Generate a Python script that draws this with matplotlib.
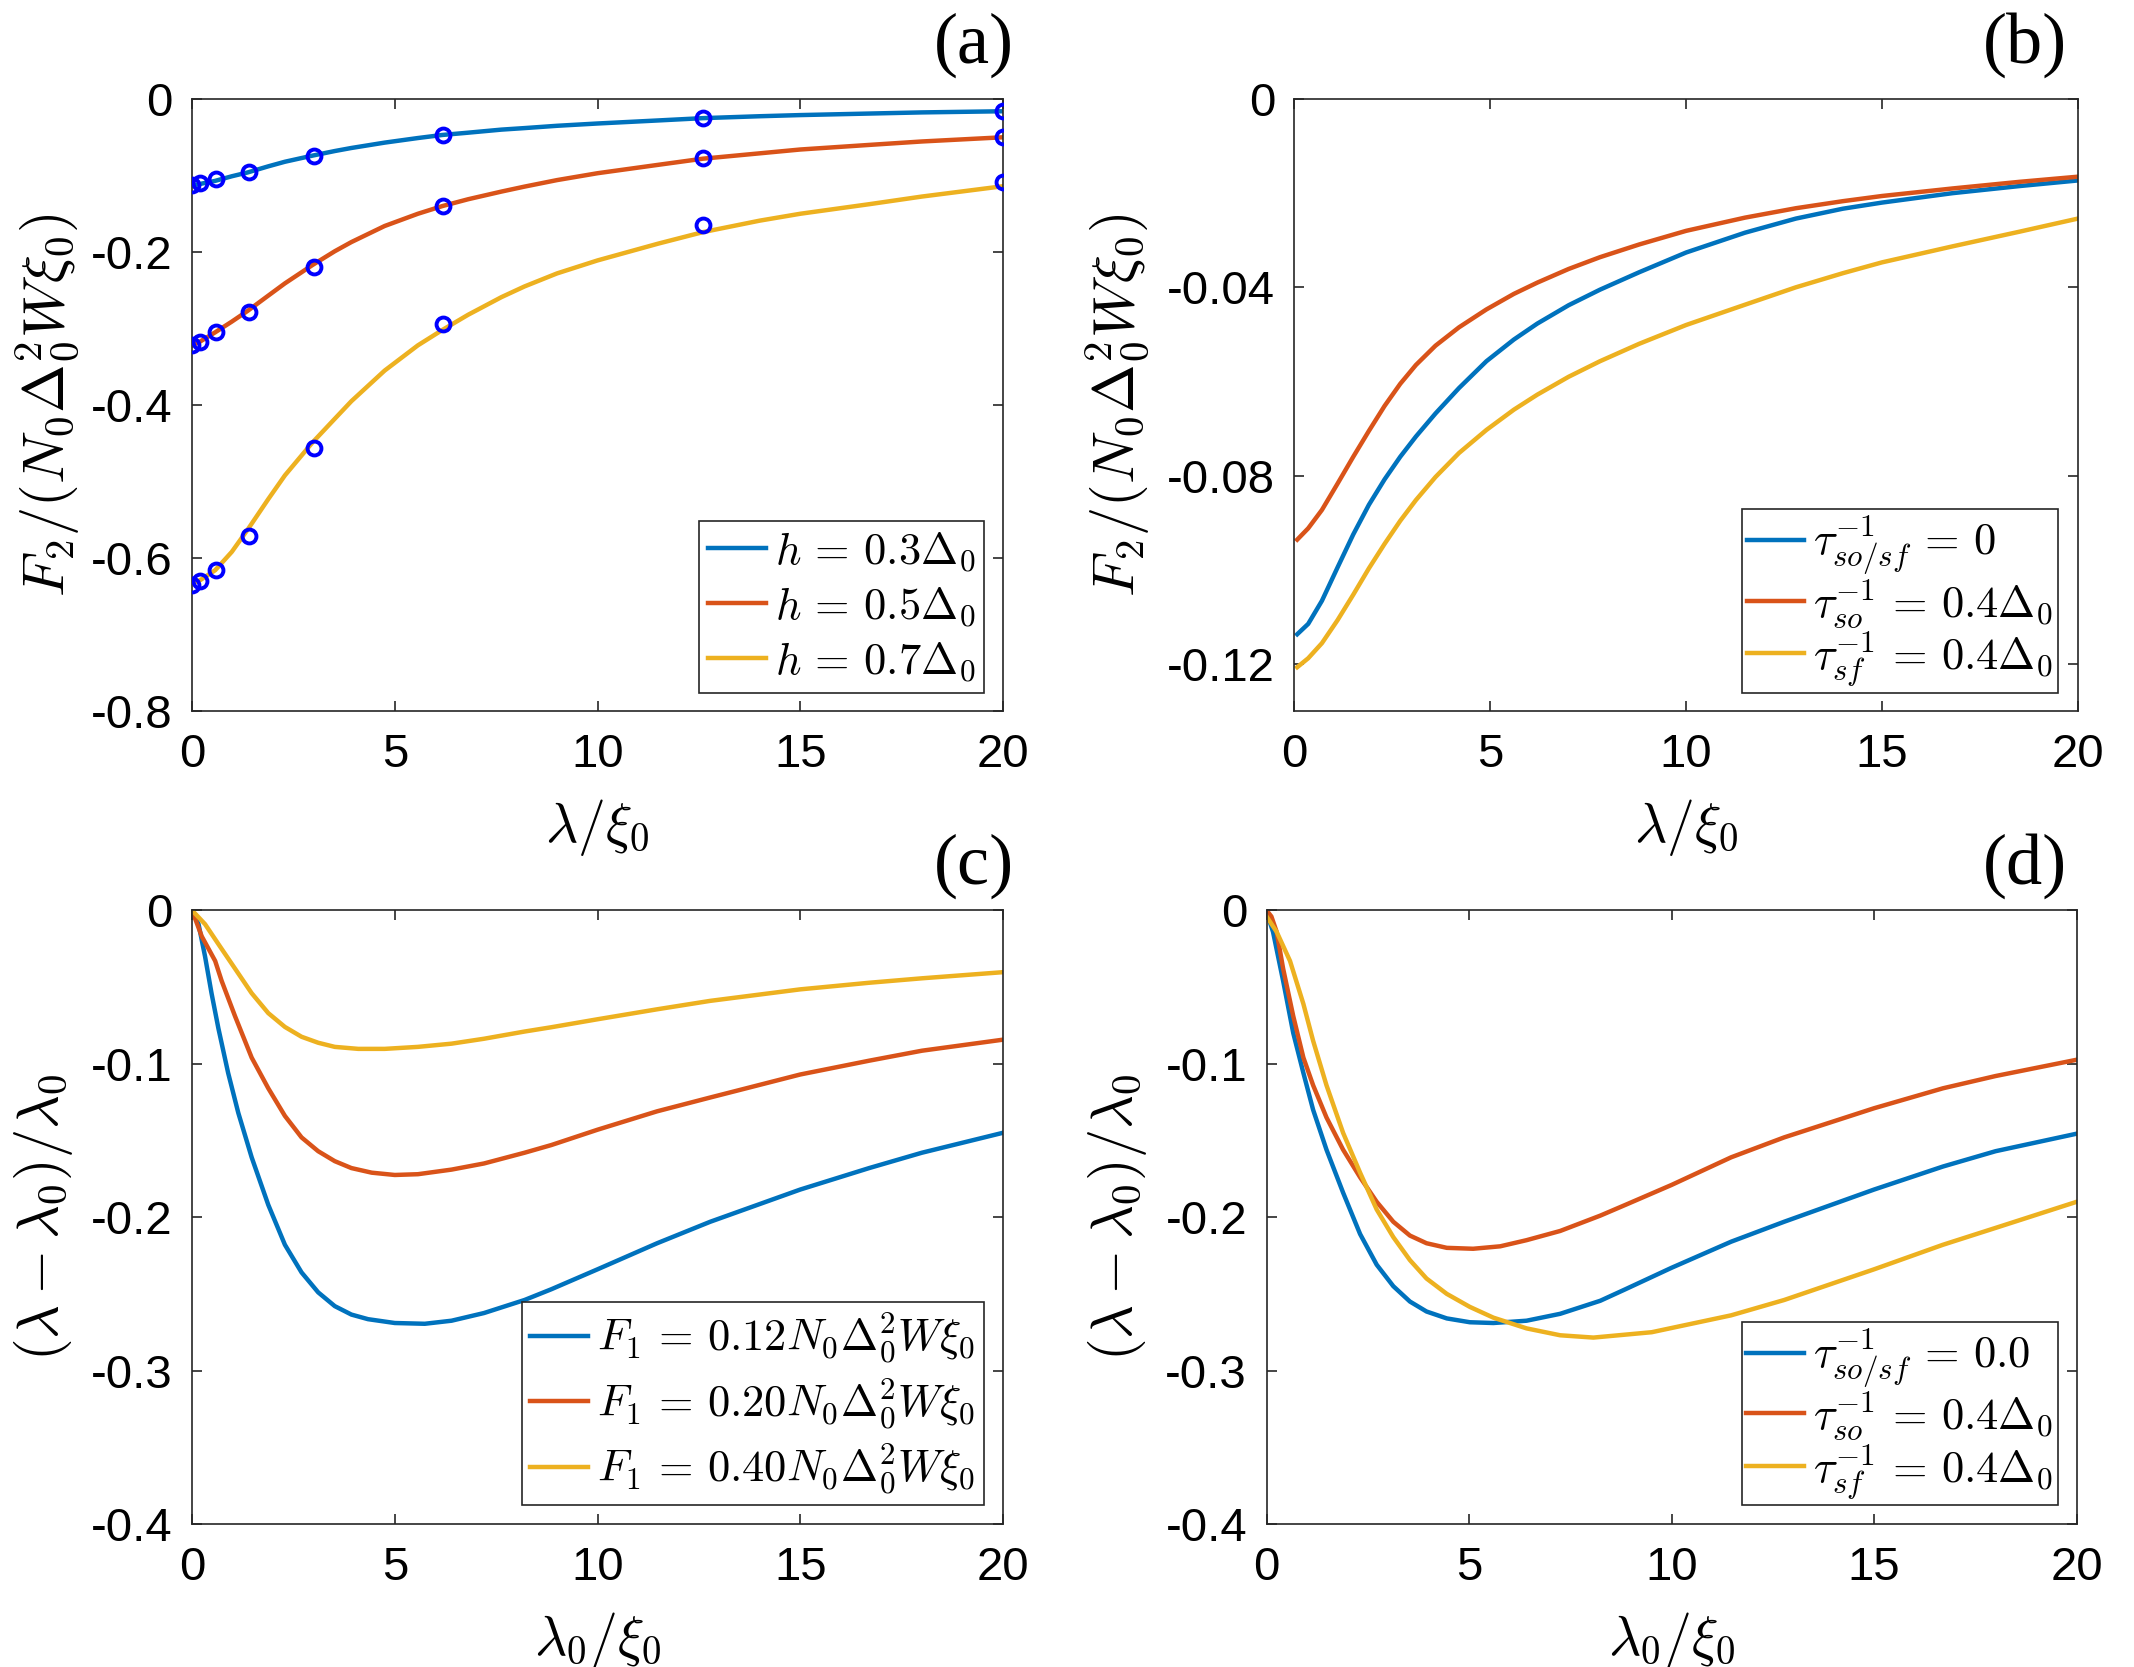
import numpy as np
import matplotlib
matplotlib.use("Agg")
from matplotlib import pyplot as plt

plt.rcParams["font.family"] = ["Liberation Sans", "DejaVu Sans"]
plt.rcParams["mathtext.fontset"] = "cm"
plt.rcParams["axes.unicode_minus"] = False

# matlab default colours
c_blue = "#0072BD"
c_red = "#D95319"
c_yel = "#EDB120"

# (a) F2 vs lambda/xi0, lines + numerical points
xa = [0, 0.2, 0.57, 0.98, 1.37, 1.88, 2.29, 2.97, 3.52, 3.93, 4.75, 5.57, 6.17, 6.81, 7.63, 8.2, 9.0,
      10, 11.5, 12.6, 14, 15, 16.7, 18, 20]
a_h03 = [-0.113, -0.111, -0.107, -0.101, -0.096, -0.088, -0.082, -0.074, -0.068, -0.064, -0.057, -0.051,
         -0.047, -0.044, -0.040, -0.038, -0.035, -0.032, -0.028, -0.025, -0.0225, -0.021, -0.019, -0.0175,
         -0.016]
a_h05 = [-0.322, -0.317, -0.305, -0.291, -0.277, -0.257, -0.241, -0.217, -0.199, -0.187, -0.166, -0.150,
         -0.140, -0.131, -0.121, -0.1145, -0.106, -0.097, -0.086, -0.078, -0.071, -0.066, -0.060, -0.0555,
         -0.050]
a_h07 = [-0.633, -0.629, -0.616, -0.592, -0.563, -0.523, -0.492, -0.449, -0.418, -0.395, -0.355, -0.322,
         -0.302, -0.282, -0.259, -0.245, -0.228, -0.211, -0.189, -0.174, -0.159, -0.150, -0.1375, -0.1275,
         -0.114]
xa_pts = [0, 0.2, 0.6, 1.4, 3.0, 6.2, 12.6, 20]
pts_h03 = [-0.112, -0.110, -0.104, -0.095, -0.074, -0.047, -0.025, -0.016]
pts_h05 = [-0.322, -0.317, -0.305, -0.278, -0.219, -0.140, -0.077, -0.050]
pts_h07 = [-0.635, -0.630, -0.616, -0.571, -0.456, -0.294, -0.165, -0.108]
labels_a = [r"$h\,=\,0.3\Delta_0$", r"$h\,=\,0.5\Delta_0$", r"$h\,=\,0.7\Delta_0$"]

# (b) F2 with spin-orbit / spin-flip scattering
xb = [0.07, 0.35, 0.7, 1.1, 1.5, 1.9, 2.3, 2.7, 3.1, 3.6, 4.2, 4.9, 5.6, 6.2, 7.0, 7.8, 8.8, 10, 11.5,
      12.8, 14, 15, 16.8, 18.5, 20]
b_none = [-0.1137, -0.1115, -0.1066, -0.0995, -0.0925, -0.0862, -0.0808, -0.0760, -0.0717, -0.0668,
          -0.0614, -0.0557, -0.0511, -0.0477, -0.0438, -0.0405, -0.0368, -0.0326, -0.0284, -0.0254,
          -0.0233, -0.0220, -0.0200, -0.0185, -0.0173]
b_so = [-0.0936, -0.0912, -0.0873, -0.0817, -0.0760, -0.0705, -0.0652, -0.0605, -0.0565, -0.0524,
        -0.0485, -0.0447, -0.0414, -0.0390, -0.0361, -0.0336, -0.0309, -0.0280, -0.0252, -0.0232,
        -0.0217, -0.0206, -0.0190, -0.0176, -0.0165]
b_sf = [-0.1207, -0.1188, -0.1156, -0.1107, -0.1053, -0.0997, -0.0945, -0.0896, -0.0852, -0.0803,
        -0.0752, -0.0703, -0.0660, -0.0628, -0.0590, -0.0557, -0.0520, -0.0480, -0.0437, -0.0400,
        -0.0370, -0.0347, -0.0313, -0.0282, -0.0254]
labels_b = [r"$\tau_{so/sf}^{-1}\,=\,0$", r"$\tau_{so}^{-1}\,=\,0.4\Delta_0$",
            r"$\tau_{sf}^{-1}\,=\,0.4\Delta_0$"]

# (c) relative shift vs lambda0/xi0 for several F1
xc_b = [0, 0.16, 0.32, 0.48, 0.65, 0.89, 1.14, 1.47, 1.88, 2.29, 2.70, 3.11, 3.52, 3.93, 4.34, 5.0,
        5.74, 6.4, 7.2, 8.2, 8.86, 10, 11.47, 12.78, 15, 16.7, 18, 20]
c_012 = [0, -0.009, -0.030, -0.054, -0.077, -0.106, -0.132, -0.161, -0.192, -0.218, -0.236, -0.249,
         -0.258, -0.2635, -0.2665, -0.269, -0.2695, -0.2675, -0.2625, -0.254, -0.247, -0.234, -0.217,
         -0.203, -0.182, -0.168, -0.158, -0.145]
xc_r = [0, 0.24, 0.57, 0.73, 1.06, 1.47, 1.88, 2.29, 2.70, 3.11, 3.52, 3.93, 4.43, 5.0, 5.57, 6.4, 7.2,
        8.2, 8.86, 10, 11.47, 12.78, 15, 16.7, 18, 20]
c_020 = [0, -0.017, -0.033, -0.046, -0.069, -0.096, -0.116, -0.134, -0.148, -0.157, -0.1635, -0.168,
         -0.171, -0.1725, -0.172, -0.169, -0.165, -0.158, -0.153, -0.143, -0.131, -0.122, -0.107, -0.098,
         -0.0915, -0.0843]
xc_y = [0, 0.32, 0.65, 1.06, 1.47, 1.88, 2.29, 2.70, 3.11, 3.52, 4.1, 4.75, 5.57, 6.4, 7.2, 8.2, 8.86,
        10, 11.47, 12.78, 15, 16.7, 18, 20]
c_040 = [0, -0.009, -0.022, -0.038, -0.054, -0.067, -0.076, -0.0824, -0.0863, -0.089, -0.0903, -0.0903,
         -0.089, -0.0869, -0.0837, -0.079, -0.0762, -0.0710, -0.0645, -0.0590, -0.0515, -0.0472,
         -0.0443, -0.0403]
labels_c = [r"$F_1\,=\,0.12N_0\Delta_0^2W\xi_0$", r"$F_1\,=\,0.20N_0\Delta_0^2W\xi_0$",
            r"$F_1\,=\,0.40N_0\Delta_0^2W\xi_0$"]

# (d) relative shift with scattering
xd_b = [0, 0.16, 0.41, 0.66, 0.91, 1.15, 1.48, 1.89, 2.31, 2.72, 3.13, 3.54, 3.95, 4.45, 5.02, 5.6,
        6.42, 7.25, 8.24, 8.86, 10, 11.47, 12.78, 15, 16.7, 18, 20]
d_none = [-0.001, -0.014, -0.046, -0.080, -0.106, -0.130, -0.156, -0.184, -0.211, -0.231, -0.245,
          -0.255, -0.2615, -0.266, -0.2685, -0.269, -0.2675, -0.263, -0.2545, -0.247, -0.233, -0.216,
          -0.203, -0.182, -0.167, -0.157, -0.1456]
xd_r = [0, 0.12, 0.25, 0.41, 0.66, 0.91, 1.15, 1.48, 1.89, 2.31, 2.72, 3.13, 3.54, 3.95, 4.45, 5.1,
        5.77, 6.42, 7.25, 8.24, 8.86, 10, 11.47, 12.78, 15, 16.7, 18, 20]
d_so = [0, -0.004, -0.014, -0.038, -0.069, -0.096, -0.114, -0.135, -0.156, -0.174, -0.190, -0.203,
        -0.212, -0.217, -0.220, -0.2206, -0.219, -0.215, -0.209, -0.199, -0.192, -0.179, -0.161, -0.148,
        -0.129, -0.116, -0.108, -0.0974]
xd_y = [0, 0.25, 0.58, 0.91, 1.15, 1.48, 1.89, 2.31, 2.72, 3.13, 3.54, 3.95, 4.45, 5.02, 5.6, 6.42,
        7.25, 8.07, 9.51, 11.47, 12.78, 15, 16.7, 18, 20]
d_sf = [-0.004, -0.014, -0.033, -0.061, -0.085, -0.114, -0.145, -0.171, -0.195, -0.213, -0.228, -0.240,
        -0.250, -0.2585, -0.2655, -0.2725, -0.2770, -0.2785, -0.2750, -0.264, -0.254, -0.234, -0.218,
        -0.207, -0.190]
labels_d = [r"$\tau_{so/sf}^{-1}\,=\,0.0$", r"$\tau_{so}^{-1}\,=\,0.4\Delta_0$",
            r"$\tau_{sf}^{-1}\,=\,0.4\Delta_0$"]

fig = plt.figure(figsize=(10.67, 8.335), dpi=200)
axa = fig.add_axes([0.0900, 0.5735, 0.3800, 0.3671])
axb = fig.add_axes([0.6066, 0.5735, 0.3671, 0.3671])
axc = fig.add_axes([0.0900, 0.0858, 0.3800, 0.3681])
axd = fig.add_axes([0.5935, 0.0858, 0.3796, 0.3681])

lw = 1.6
edge = "#262626"

axa.plot(xa, a_h03, color=c_blue, lw=lw, label=labels_a[0])
axa.plot(xa, a_h05, color=c_red, lw=lw, label=labels_a[1])
axa.plot(xa, a_h07, color=c_yel, lw=lw, label=labels_a[2])
for p in [pts_h03, pts_h05, pts_h07]:
    axa.plot(xa_pts, p, "o", mfc="none", mec="b", ms=5, mew=1.4, zorder=5)

axb.plot(xb, b_none, color=c_blue, lw=lw, label=labels_b[0])
axb.plot(xb, b_so, color=c_red, lw=lw, label=labels_b[1])
axb.plot(xb, b_sf, color=c_yel, lw=lw, label=labels_b[2])

axc.plot(xc_b, c_012, color=c_blue, lw=lw, label=labels_c[0])
axc.plot(xc_r, c_020, color=c_red, lw=lw, label=labels_c[1])
axc.plot(xc_y, c_040, color=c_yel, lw=lw, label=labels_c[2])

axd.plot(xd_b, d_none, color=c_blue, lw=lw, label=labels_d[0])
axd.plot(xd_r, d_so, color=c_red, lw=lw, label=labels_d[1])
axd.plot(xd_y, d_sf, color=c_yel, lw=lw, label=labels_d[2])

ylab_top = r"$F_2/(N_0\Delta_0^2W\xi_0)$"
ylab_bot = r"$(\lambda-\lambda_0)/\lambda_0$"

# ax, ylim, yticks, yticklabels, ylabel, xlabel, ylabel x, legend anchor, labelspacing, borderpad
setup = [
    (axa, (-0.8, 0), [0, -0.2, -0.4, -0.6, -0.8], ["0", "-0.2", "-0.4", "-0.6", "-0.8"],
     ylab_top, r"$\lambda/\xi_0$", -0.136, (0.977, 0.030), 0.25, 0.2),
    (axb, (-0.13, 0), [0, -0.04, -0.08, -0.12], ["0", "-0.04", "-0.08", "-0.12"],
     ylab_top, r"$\lambda/\xi_0$", -0.182, (0.9745, 0.030), 0.0, 0.1),
    (axc, (-0.4, 0), [0, -0.1, -0.2, -0.3, -0.4], ["0", "-0.1", "-0.2", "-0.3", "-0.4"],
     ylab_bot, r"$\lambda_0/\xi_0$", -0.144, (0.977, 0.031), 0.25, 0.2),
    (axd, (-0.4, 0), [0, -0.1, -0.2, -0.3, -0.4], ["0", "-0.1", "-0.2", "-0.3", "-0.4"],
     ylab_bot, r"$\lambda_0/\xi_0$", -0.145, (0.9765, 0.031), 0.0, 0.1),
]

for ax, ylim, yt, ytl, ylab, xlab, ylx, legpos, lsp, bpad in setup:
    ax.set_xlim(0, 20)
    ax.set_ylim(*ylim)
    ax.set_xticks([0, 5, 10, 15, 20])
    ax.set_xticklabels(["0", "5", "10", "15", "20"])
    ax.set_yticks(yt)
    ax.set_yticklabels(ytl)
    ax.tick_params(direction="in", top=True, right=True, length=3.5, width=0.6,
                   colors=edge, labelcolor="black", labelsize=17)
    ax.tick_params(axis="x", pad=8)
    ax.tick_params(axis="y", pad=7)
    for s in ax.spines.values():
        s.set_linewidth(0.6)
        s.set_color(edge)
    ax.set_ylabel(ylab, fontsize=21)
    ax.yaxis.set_label_coords(ylx, 0.5)
    ax.set_xlabel(xlab, fontsize=20)
    ax.xaxis.set_label_coords(0.5, -0.14)
    leg = ax.legend(loc="lower right", bbox_to_anchor=legpos, borderaxespad=0, fontsize=16,
                    fancybox=False, framealpha=1, edgecolor=edge, handlelength=1.3,
                    handletextpad=0.2, borderpad=bpad, labelspacing=lsp)
    leg.get_frame().set_linewidth(0.6)

for txt, x, y in [("(a)", 0.4752, 0.973), ("(b)", 0.9686, 0.973), ("(c)", 0.4752, 0.4805), ("(d)", 0.9686, 0.4805)]:
    fig.text(x, y, txt, ha="right", va="center", fontsize=26, family="Liberation Serif")

fig.savefig("out.png", dpi=200)
